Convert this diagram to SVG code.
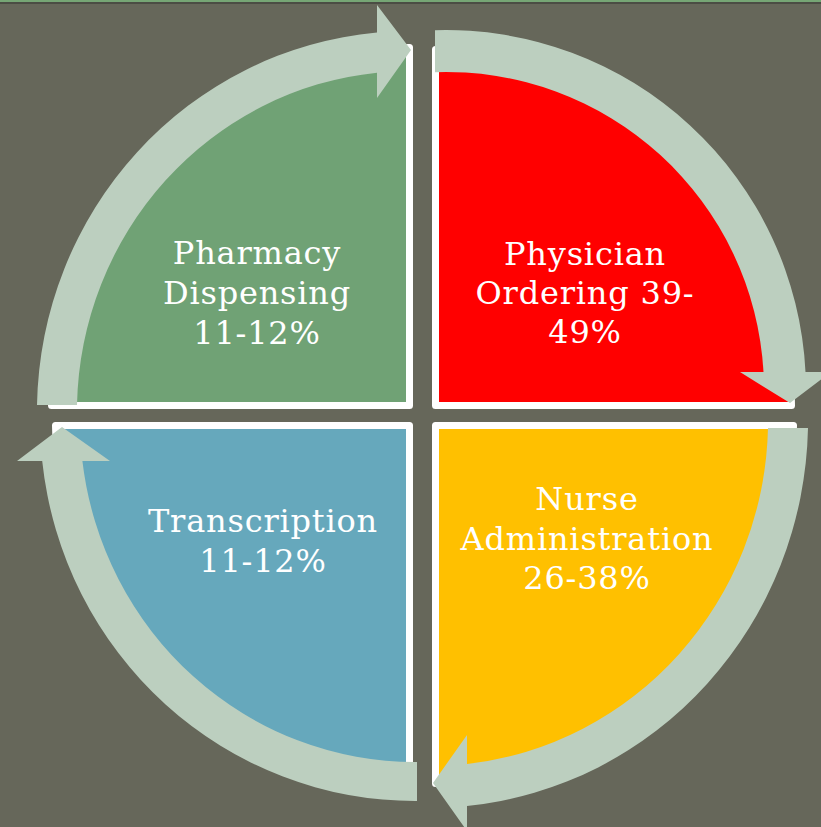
<svg xmlns="http://www.w3.org/2000/svg" width="821" height="827" viewBox="0 0 821 827">
  <style>
    .q { stroke: #ffffff; stroke-width: 7; stroke-linejoin: round; }
    .arrow { fill: #bccfbf; }
    .lbl { font-family: "DejaVu Serif", "Liberation Serif", serif; font-size: 32px; letter-spacing: 0.8px; fill: #ffffff; text-anchor: middle; }
  </style>
  <rect x="0" y="0" width="821" height="827" fill="#66675a"/>
  <rect x="0" y="0" width="821" height="2" fill="#76a675"/>
  <rect x="0" y="2" width="821" height="2" fill="#4b4d44"/>

  <g id="node-pharmacy">
    <path class="q" fill="#70a275" d="M 409.5 405.5 L 51.5 405.5 A 358 358 0 0 1 409.5 47.5 Z"/>
    <text class="lbl" x="257" y="264">Pharmacy</text>
    <text class="lbl" x="257" y="304">Dispensing</text>
    <text class="lbl" x="257" y="344">11-12%</text>
  </g>
  <g id="node-physician">
    <path class="q" fill="#ff0000" d="M 435.5 405.5 L 435.5 49.5 A 356 356 0 0 1 791.5 405.5 Z"/>
    <text class="lbl" x="585" y="265">Physician</text>
    <text class="lbl" x="585" y="304">Ordering 39-</text>
    <text class="lbl" x="585" y="343">49%</text>
  </g>
  <g id="node-transcription">
    <path class="q" fill="#66a8bc" d="M 409.5 425.5 L 409.5 779.5 A 354 354 0 0 1 55.5 425.5 Z"/>
    <text class="lbl" x="263" y="532">Transcription</text>
    <text class="lbl" x="263" y="572">11-12%</text>
  </g>
  <g id="node-nurse">
    <path class="q" fill="#ffc000" d="M 435.5 425.5 L 793.5 425.5 A 358 358 0 0 1 435.5 783.5 Z"/>
    <text class="lbl" x="587" y="510">Nurse</text>
    <text class="lbl" x="587" y="550">Administration</text>
    <text class="lbl" x="587" y="589">26-38%</text>
  </g>

  <g id="connectors">
    <path class="arrow" d="M 37 405 A 373 381 0 0 1 377 32.5 L 377 5 L 411 50 L 377 98 L 377 72.7 A 333 341 0 0 0 77 405 Z"/>
    <path class="arrow" d="M 435 30.2 A 360 360 0 0 1 805.5 372 L 831 372 L 790 403 L 740 372 L 763.5 372 A 318 318 0 0 0 435 72.2 Z"/>
    <path class="arrow" d="M 808 428 A 378 388 0 0 1 467 806 L 467 831 L 433 783 L 467 735 L 467 764 A 338 346 0 0 0 768 428 Z"/>
    <path class="arrow" d="M 417 801 A 375 381 0 0 1 42.2 461 L 17 461 L 62 427 L 110 461 L 82.4 461 A 335 342 0 0 0 417 762 Z"/>
  </g>
</svg>
